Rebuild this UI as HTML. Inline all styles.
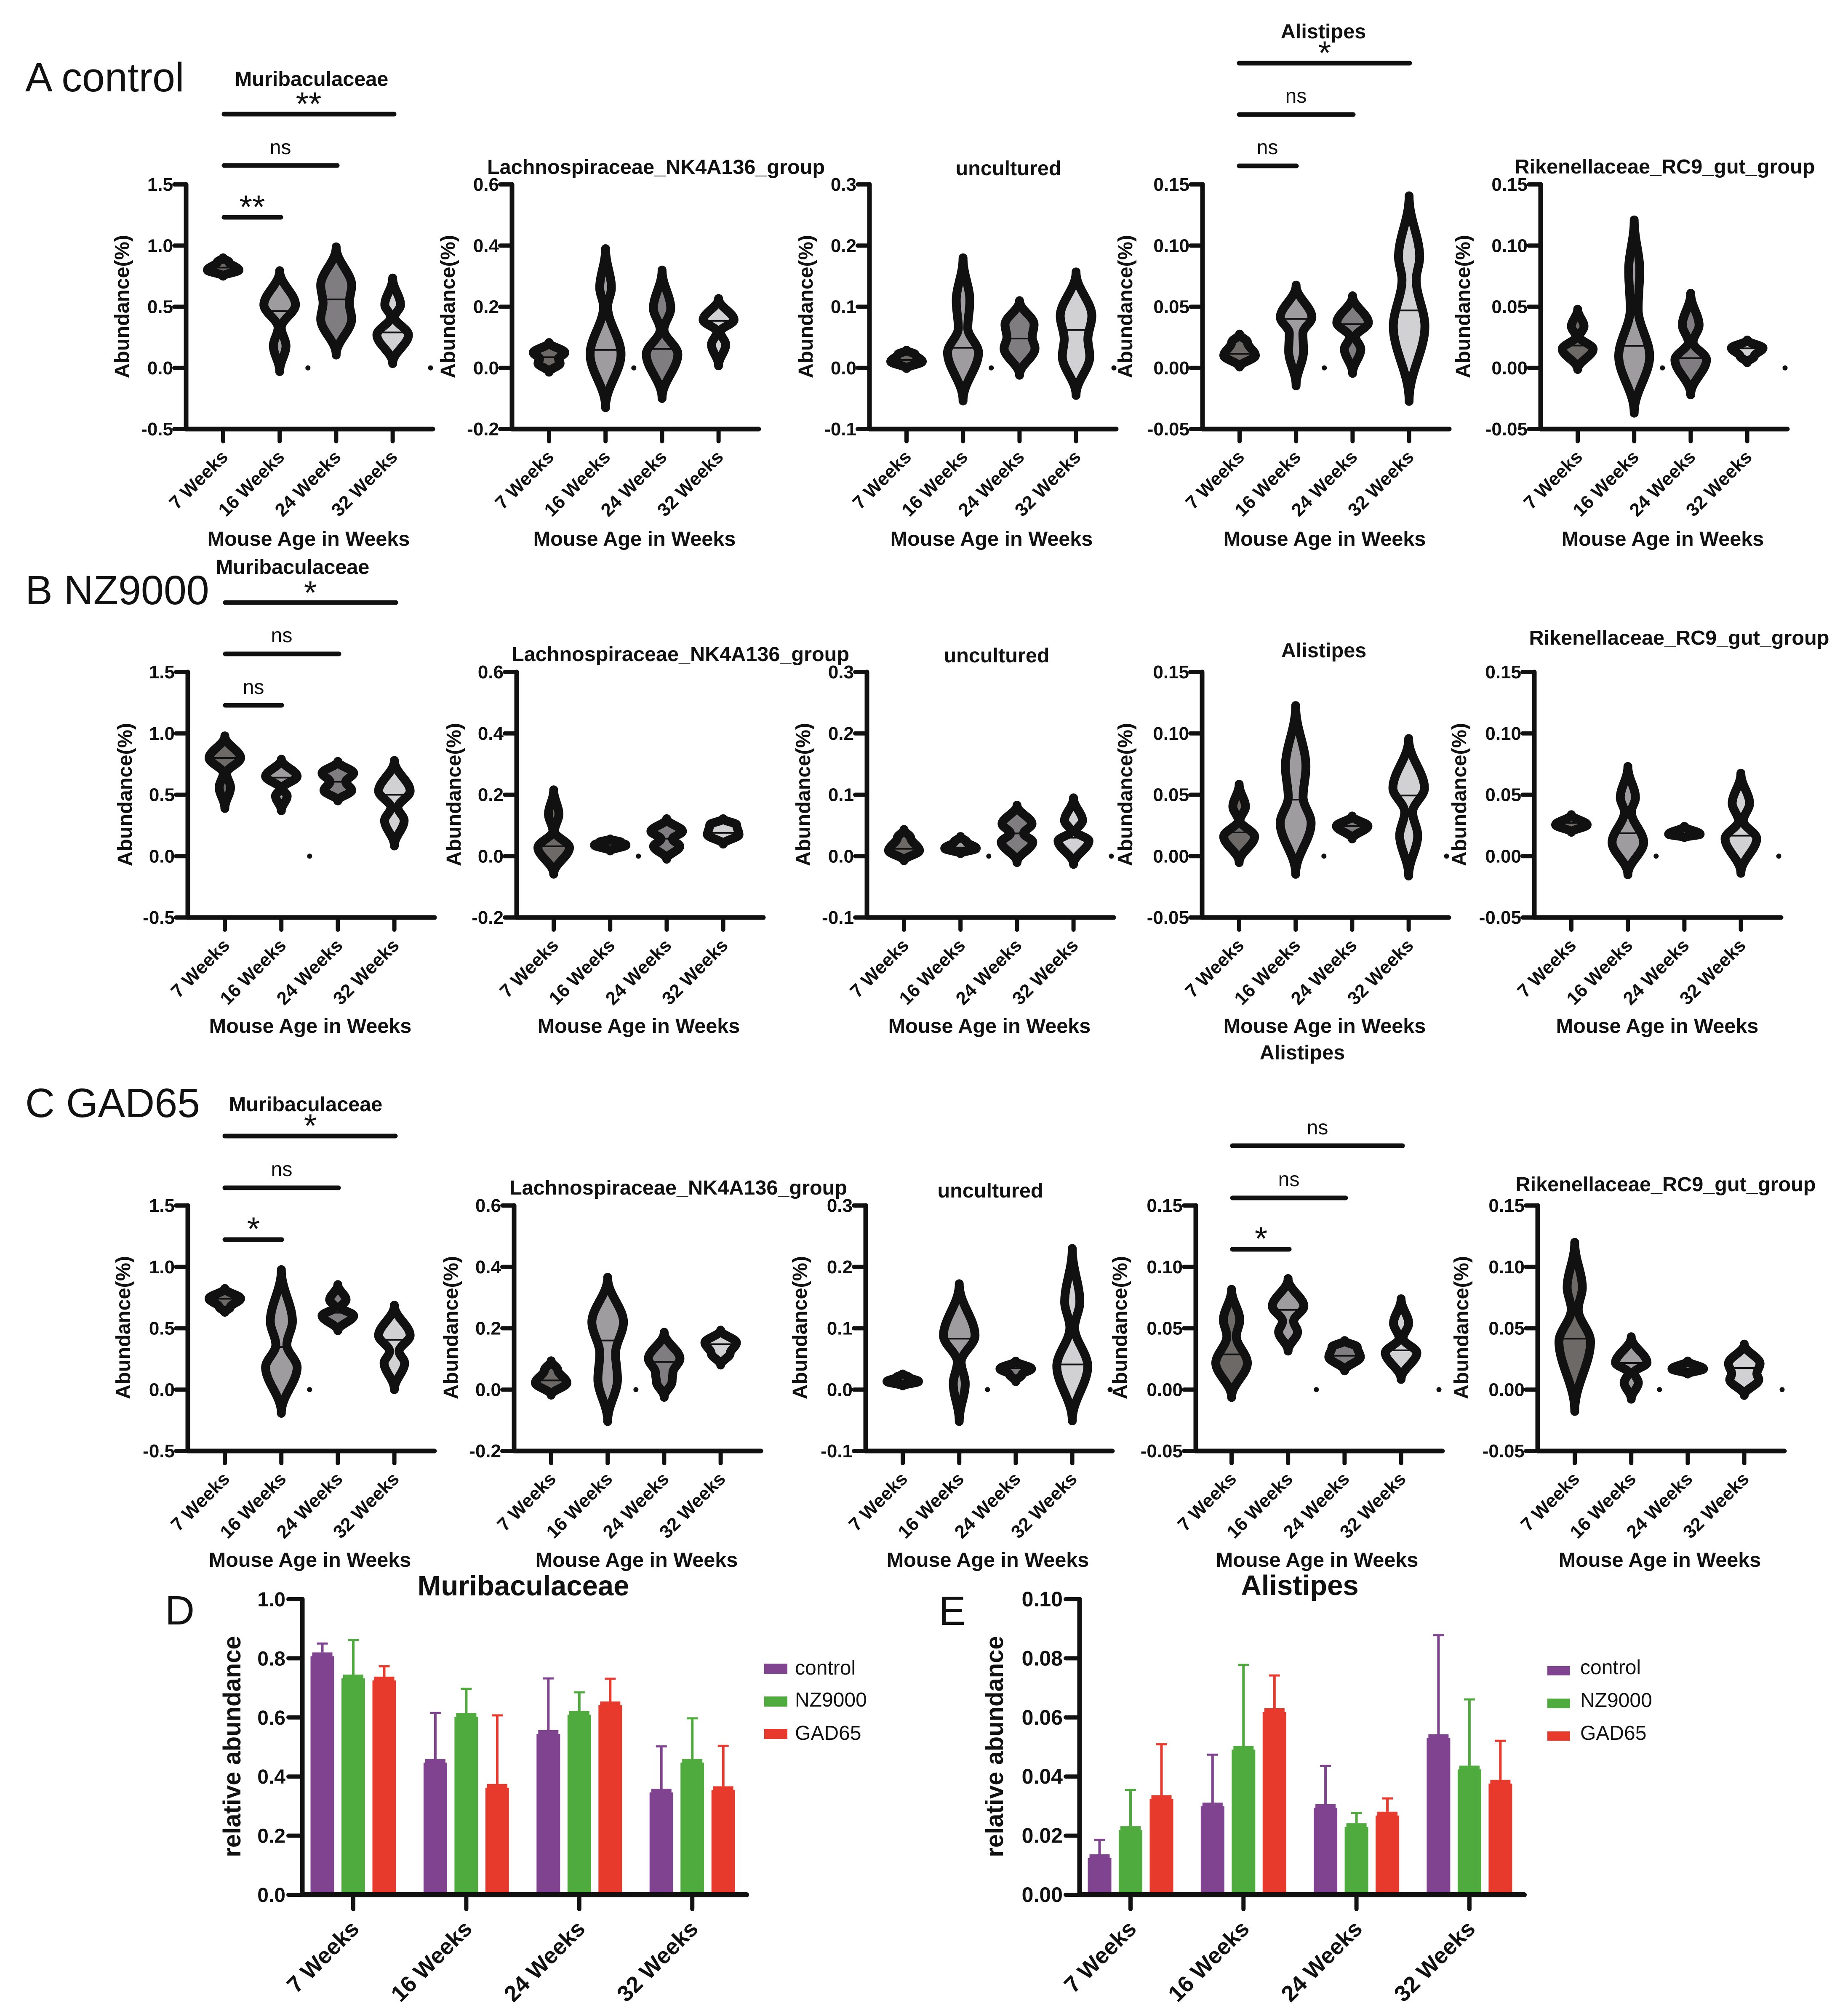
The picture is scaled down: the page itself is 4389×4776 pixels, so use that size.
<!DOCTYPE html>
<html lang="en">
<head>
<meta charset="utf-8">
<title>Abundance violin plots and bar charts</title>
<style>
html,body{margin:0;padding:0;background:#fff;}
svg{display:block;}
text{font-family:"Liberation Sans",Arial,sans-serif;fill:#111;}
.m{font-weight:bold;font-size:48.6px;text-anchor:middle;}
.l{font-size:97px;}
.ns{font-size:48px;text-anchor:middle;}
.st{font-size:78px;text-anchor:middle;}
.sig{stroke:#111;stroke-width:11;stroke-linecap:round;fill:none;}
.big{font-weight:bold;font-size:67px;text-anchor:middle;}
.ra{font-weight:bold;font-size:58px;text-anchor:middle;}
.lg{font-size:48px;}
</style>
</head>
<body>
<svg id="fig" xmlns="http://www.w3.org/2000/svg" width="4389" height="4776" viewBox="0 0 4389 4776">
<rect width="4389" height="4776" fill="#fff"/>

<text class="l" x="60" y="217">A control</text>
<text class="l" x="60" y="1435">B NZ9000</text>
<text class="l" x="60" y="2653">C GAD65</text>
<text class="l" x="392" y="3858">D</text>
<text class="l" x="2229" y="3859">E</text>

<!-- Chart titles -->
<text class="m" x="740" y="204">Muribaculaceae</text>
<text class="m" x="1558" y="413">Lachnospiraceae_NK4A136_group</text>
<text class="m" x="2395" y="416">uncultured</text>
<text class="m" x="3143" y="91">Alistipes</text>
<text class="m" x="3954" y="412">Rikenellaceae_RC9_gut_group</text>
<text class="m" x="695" y="1363">Muribaculaceae</text>
<text class="m" x="1616" y="1570">Lachnospiraceae_NK4A136_group</text>
<text class="m" x="2367" y="1573">uncultured</text>
<text class="m" x="3144" y="1561">Alistipes</text>
<text class="m" x="3988" y="1531">Rikenellaceae_RC9_gut_group</text>
<text class="m" x="726" y="2639">Muribaculaceae</text>
<text class="m" x="1611" y="2837">Lachnospiraceae_NK4A136_group</text>
<text class="m" x="2352" y="2844">uncultured</text>
<text class="m" x="3093" y="2516">Alistipes</text>
<text class="m" x="3956" y="2829">Rikenellaceae_RC9_gut_group</text>

<!-- X axis titles -->
<text class="m" x="733" y="1296">Mouse Age in Weeks</text>
<text class="m" x="1507" y="1296">Mouse Age in Weeks</text>
<text class="m" x="2355" y="1296">Mouse Age in Weeks</text>
<text class="m" x="3146" y="1296">Mouse Age in Weeks</text>
<text class="m" x="3949" y="1296">Mouse Age in Weeks</text>
<text class="m" x="737" y="2453">Mouse Age in Weeks</text>
<text class="m" x="1517" y="2453">Mouse Age in Weeks</text>
<text class="m" x="2350" y="2453">Mouse Age in Weeks</text>
<text class="m" x="3146" y="2453">Mouse Age in Weeks</text>
<text class="m" x="3936" y="2453">Mouse Age in Weeks</text>
<text class="m" x="736" y="3721">Mouse Age in Weeks</text>
<text class="m" x="1512" y="3721">Mouse Age in Weeks</text>
<text class="m" x="2346" y="3721">Mouse Age in Weeks</text>
<text class="m" x="3128" y="3721">Mouse Age in Weeks</text>
<text class="m" x="3942" y="3721">Mouse Age in Weeks</text>

<!-- Y axis titles -->
<text class="m" transform="translate(306,728) rotate(-90)">Abundance(%)</text>
<text class="m" transform="translate(1080,728) rotate(-90)">Abundance(%)</text>
<text class="m" transform="translate(1930,728) rotate(-90)">Abundance(%)</text>
<text class="m" transform="translate(2689,728) rotate(-90)">Abundance(%)</text>
<text class="m" transform="translate(3491,728) rotate(-90)">Abundance(%)</text>
<text class="m" transform="translate(313,1887) rotate(-90)">Abundance(%)</text>
<text class="m" transform="translate(1094,1887) rotate(-90)">Abundance(%)</text>
<text class="m" transform="translate(1924,1887) rotate(-90)">Abundance(%)</text>
<text class="m" transform="translate(2689,1887) rotate(-90)">Abundance(%)</text>
<text class="m" transform="translate(3482,1887) rotate(-90)">Abundance(%)</text>
<text class="m" transform="translate(309,3153) rotate(-90)">Abundance(%)</text>
<text class="m" transform="translate(1087,3153) rotate(-90)">Abundance(%)</text>
<text class="m" transform="translate(1916,3153) rotate(-90)">Abundance(%)</text>
<text class="m" transform="translate(2676,3153) rotate(-90)">Abundance(%)</text>
<text class="m" transform="translate(3487,3153) rotate(-90)">Abundance(%)</text>

<!-- Significance brackets -->
<line class="sig" x1="532" y1="271" x2="936" y2="271"/>
<line class="sig" x1="532" y1="393" x2="801" y2="393"/>
<line class="sig" x1="532" y1="516" x2="667" y2="516"/>
<text class="st" x="733" y="273">**</text>
<text class="ns" x="666" y="366">ns</text>
<text class="st" x="599" y="518">**</text>

<line class="sig" x1="2943" y1="150" x2="3348" y2="150"/>
<line class="sig" x1="2943" y1="272" x2="3214" y2="272"/>
<line class="sig" x1="2943" y1="394" x2="3079" y2="394"/>
<text class="st" x="3146" y="152">*</text>
<text class="ns" x="3078" y="244">ns</text>
<text class="ns" x="3010" y="366">ns</text>

<line class="sig" x1="535" y1="1431" x2="940" y2="1431"/>
<line class="sig" x1="535" y1="1553" x2="805" y2="1553"/>
<line class="sig" x1="535" y1="1675" x2="669" y2="1675"/>
<text class="st" x="737" y="1434">*</text>
<text class="ns" x="669" y="1525">ns</text>
<text class="ns" x="602" y="1648">ns</text>

<line class="sig" x1="534" y1="2698" x2="939" y2="2698"/>
<line class="sig" x1="534" y1="2821" x2="804" y2="2821"/>
<line class="sig" x1="534" y1="2944" x2="669" y2="2944"/>
<text class="st" x="737" y="2700">*</text>
<text class="ns" x="669" y="2793">ns</text>
<text class="st" x="602" y="2945">*</text>

<line class="sig" x1="2927" y1="2721" x2="3331" y2="2721"/>
<line class="sig" x1="2927" y1="2845" x2="3196" y2="2845"/>
<line class="sig" x1="2927" y1="2967" x2="3062" y2="2967"/>
<text class="ns" x="3129" y="2694">ns</text>
<text class="ns" x="3061" y="2817">ns</text>
<text class="st" x="2995" y="2968">*</text>

<!-- Bar chart furniture -->
<text class="big" x="1243" y="3789">Muribaculaceae</text>
<text class="big" x="3087" y="3788">Alistipes</text>
<text class="ra" transform="translate(571,4148) rotate(-90)">relative abundance</text>
<text class="ra" transform="translate(2382,4148) rotate(-90)">relative abundance</text>

<g>
<rect x="1815" y="3951" width="55" height="24" fill="#7f4390"/>
<text class="lg" x="1888" y="3977">control</text>
<rect x="1815" y="4029" width="55" height="24" fill="#50ab3e"/>
<text class="lg" x="1888" y="4053">NZ9000</text>
<rect x="1815" y="4106" width="55" height="24" fill="#e8392d"/>
<text class="lg" x="1888" y="4132">GAD65</text>
</g>
<g>
<rect x="3675" y="3957" width="54" height="22" fill="#7f4390"/>
<text class="lg" x="3753" y="3976">control</text>
<rect x="3675" y="4034" width="54" height="23" fill="#50ab3e"/>
<text class="lg" x="3753" y="4054">NZ9000</text>
<rect x="3675" y="4112" width="54" height="22" fill="#e8392d"/>
<text class="lg" x="3753" y="4132">GAD65</text>
</g>
</svg>

<script>
// ---- Shared categories and tick labels ----
const categories = ['7 Weeks', '16 Weeks', '24 Weeks', '32 Weeks'];
const muriTicks = [-0.5, 0, 0.5, 1, 1.5];
const lachTicks = [-0.2, 0, 0.2, 0.4, 0.6];
const uncuTicks = [-0.1, 0, 0.1, 0.2, 0.3];
const alisTicks = [-0.05, 0, 0.05, 0.1, 0.15];
const rikeTicks = [-0.05, 0, 0.05, 0.1, 0.15];
const barTicksD = [0, 0.2, 0.4, 0.6, 0.8, 1];
const barTicksE = [0, 0.02, 0.04, 0.06, 0.08, 0.1];

// ---- Violin data: lower tip, upper tip, median, density knots [abundance, relative density] ----
const aMuriLow = [0.75, -0.03, 0.105, 0.035];
const aMuriHigh = [0.90, 0.795, 0.99, 0.735];
const aMuriMedian = [0.82, 0.464, 0.56, 0.29];
const aMuriShape = [[[0.8, 1], [0.865, 0.37]], [[0.18, 0.4], [0.33, 0.1], [0.516, 1]], [[0.4, 0.98], [0.53, 0.83], [0.675, 0.98]], [[0.27, 1], [0.415, 0.12], [0.516, 0.5]]];

const aLachLow = [-0.014, -0.13, -0.10, 0.007];
const aLachHigh = [0.083, 0.39, 0.32, 0.227];
const aLachMedian = [0.035, 0.059, 0.062, 0.154];
const aLachShape = [[[0.015, 0.7], [0.03, 0.6], [0.05, 1]], [[0.045, 0.98], [0.2, 0.13], [0.262, 0.37]], [[0.045, 1], [0.125, 0.12], [0.195, 0.55]], [[0.076, 0.45], [0.119, 0.1], [0.157, 0.98]]];

const aUncuLow = [-0.001, -0.054, -0.012, -0.045];
const aUncuHigh = [0.029, 0.18, 0.11, 0.157];
const aUncuMedian = [0.013, 0.033, 0.048, 0.062];
const aUncuShape = [[[0.0105, 1], [0.022, 0.55]], [[0.025, 0.98], [0.065, 0.3], [0.11, 0.43]], [[0.032, 0.98], [0.05, 0.8], [0.071, 0.92]], [[0.019, 0.87], [0.047, 0.75], [0.085, 1]]];

const aAlisLow = [0.0007, -0.0147, -0.0045, -0.0274];
const aAlisHigh = [0.0277, 0.0677, 0.059, 0.1407];
const aAlisMedian = [0.0115, 0.04, 0.0357, 0.047];
const aAlisShape = [[[0.0101, 1], [0.021, 0.5]], [[0.0139, 0.47], [0.0284, 0.43], [0.0414, 1]], [[0.0154, 0.52], [0.0255, 0.18], [0.037, 1]], [[0.034, 1], [0.072, 0.45], [0.0907, 0.67]]];

const aRikeLow = [-0.0013, -0.037, -0.022, 0.0042];
const aRikeHigh = [0.048, 0.121, 0.061, 0.0228];
const aRikeMedian = [0.0183, 0.018, 0.008, 0.016];
const aRikeShape = [[[0.0154, 0.98], [0.0255, 0.1], [0.034, 0.4]], [[0.0096, 0.98], [0.048, 0.25], [0.08, 0.35]], [[0.0067, 1], [0.021, 0.15], [0.035, 0.53]], [[0.0096, 0.45], [0.0162, 1]]];

const bMuriLow = [0.388, 0.37, 0.45, 0.083];
const bMuriHigh = [0.98, 0.79, 0.772, 0.78];
const bMuriMedian = [0.8, 0.64, 0.606, 0.5];
const bMuriShape = [[[0.56, 0.36], [0.676, 0.1], [0.8, 1]], [[0.49, 0.37], [0.553, 0.05], [0.65, 1]], [[0.536, 0.88], [0.606, 0.5], [0.676, 1]], [[0.29, 0.62], [0.396, 0.22], [0.53, 1]]];

const bLachLow = [-0.059, 0.017, -0.01, 0.039];
const bLachHigh = [0.216, 0.056, 0.122, 0.122];
const bLachMedian = [0.032, 0.04, 0.057, 0.076];
const bLachShape = [[[0.028, 1], [0.081, 0.05], [0.137, 0.33]], [[0.036, 1], [0.045, 0.7]], [[0.032, 0.83], [0.056, 0.37], [0.081, 1]], [[0.07, 1], [0.102, 0.85]]];

const bUncuLow = [-0.0075, 0.004, -0.0105, -0.0135];
const bUncuHigh = [0.0435, 0.032, 0.083, 0.095];
const bUncuMedian = [0.012, 0.014, 0.037, 0.03];
const bUncuShape = [[[0.009, 0.98], [0.03, 0.42]], [[0.0126, 1], [0.023, 0.4]], [[0.023, 1], [0.037, 0.42], [0.0525, 0.95]], [[0.025, 0.98], [0.04, 0.15], [0.058, 0.57]]];

const bAlisLow = [-0.0053, -0.0148, 0.014, -0.0162];
const bAlisHigh = [0.0586, 0.1227, 0.0327, 0.0958];
const bAlisMedian = [0.0193, 0.046, 0.0245, 0.0494];
const bAlisShape = [[[0.016, 0.98], [0.029, 0.05], [0.0403, 0.4]], [[0.027, 0.98], [0.048, 0.47], [0.073, 0.65]], [[0.0245, 1]], [[0.0168, 0.57], [0.036, 0.25], [0.0554, 1]]];

const bRikeLow = [0.0194, -0.0152, 0.0151, -0.014];
const bRikeHigh = [0.0338, 0.0731, 0.0243, 0.0676];
const bRikeMedian = [0.027, 0.0186, 0.018, 0.0167];
const bRikeShape = [[[0.0255, 1]], [[0.0112, 1], [0.036, 0.22], [0.0477, 0.48]], [[0.0179, 1]], [[0.0143, 1], [0.0286, 0.15], [0.043, 0.55]]];

const cMuriLow = [0.63, -0.193, 0.48, 0];
const cMuriHigh = [0.824, 0.978, 0.856, 0.688];
const cMuriMedian = [0.74, 0.347, 0.627, 0.406];
const cMuriShape = [[[0.672, 0.35], [0.742, 1]], [[0.182, 1], [0.364, 0.35], [0.557, 0.7]], [[0.602, 1], [0.67, 0.18], [0.732, 0.52]], [[0.217, 0.65], [0.312, 0.3], [0.441, 1]]];

const cLachLow = [-0.018, -0.104, -0.025, 0.08];
const cLachHigh = [0.094, 0.366, 0.187, 0.194];
const cLachMedian = [0.03, 0.16, 0.09, 0.148];
const cLachShape = [[[0.022, 1], [0.064, 0.42]], [[0.034, 0.62], [0.118, 0.5], [0.22, 1]], [[0.027, 0.5], [0.055, 0.55], [0.101, 1]], [[0.118, 0.6], [0.153, 1]]];

const cUncuLow = [0.006, -0.052, 0.013, -0.051];
const cUncuHigh = [0.0255, 0.1725, 0.0465, 0.23];
const cUncuMedian = [0.014, 0.083, 0.035, 0.041];
const cUncuShape = [[[0.0133, 1], [0.02, 0.4]], [[0.01, 0.38], [0.045, 0.12], [0.088, 1]], [[0.025, 0.4], [0.034, 1]], [[0.038, 0.98], [0.101, 0.15], [0.143, 0.48]]];

const cAlisLow = [-0.0064, 0.0314, 0.0153, 0.0083];
const cAlisHigh = [0.0817, 0.0905, 0.04, 0.074];
const cAlisMedian = [0.0287, 0.065, 0.0276, 0.032];
const cAlisShape = [[[0.0217, 1], [0.0434, 0.3], [0.0568, 0.52]], [[0.047, 0.6], [0.0557, 0.35], [0.0679, 1]], [[0.0266, 1], [0.0347, 0.8]], [[0.03, 1], [0.0417, 0.12], [0.054, 0.48]]];

const cRikeLow = [-0.0178, -0.0078, 0.0127, -0.0047];
const cRikeHigh = [0.12, 0.0431, 0.0233, 0.0371];
const cRikeMedian = [0.0415, 0.0217, 0.017, 0.0176];
const cRikeShape = [[[0.0391, 1], [0.0653, 0.22], [0.0832, 0.48]], [[0.0057, 0.45], [0.014, 0.18], [0.0219, 1]], [[0.0169, 1]], [[0.0081, 0.92], [0.0129, 0.8], [0.0212, 1]]];

// Stray zero-valued points and their position in category units
const strayValue = 0;
const strayOne = [1.5];
const strayTwo = [1.5, 3.67];

// ---- Bar chart data ----
const muriControl = [0.82, 0.46, 0.557, 0.359];
const muriNZ9000 = [0.745, 0.615, 0.622, 0.46];
const muriGAD65 = [0.738, 0.375, 0.654, 0.367];
const muriControlErr = [0.85, 0.615, 0.732, 0.502];
const muriNZ9000Err = [0.862, 0.697, 0.685, 0.597];
const muriGAD65Err = [0.773, 0.607, 0.731, 0.504];

const alisControl = [0.0137, 0.0312, 0.0307, 0.0543];
const alisNZ9000 = [0.0232, 0.0504, 0.0242, 0.0437];
const alisGAD65 = [0.0337, 0.0631, 0.0281, 0.0389];
const alisControlErr = [0.0186, 0.0474, 0.0436, 0.0878];
const alisNZ9000Err = [0.0355, 0.0778, 0.0277, 0.0661];
const alisGAD65Err = [0.0509, 0.0742, 0.0326, 0.0521];

// ---- Layout and styles ----
const INK = '#111';
const rows = [{top: 438, bottom: 1019}, {top: 1596, bottom: 2179}, {top: 2863, bottom: 3446}];
const fills = ['#6c6966', '#9e9c9e', '#807d80', '#d1d0d2'];
const panels = [
  {id: 'a1', row: 0, axis: 442, ticks: muriTicks, dec: 1, lo: aMuriLow, hi: aMuriHigh, med: aMuriMedian, shape: aMuriShape, stray: strayTwo},
  {id: 'a2', row: 0, axis: 1216, ticks: lachTicks, dec: 1, lo: aLachLow, hi: aLachHigh, med: aLachMedian, shape: aLachShape, stray: strayOne},
  {id: 'a3', row: 0, axis: 2065, ticks: uncuTicks, dec: 1, lo: aUncuLow, hi: aUncuHigh, med: aUncuMedian, shape: aUncuShape, stray: strayTwo},
  {id: 'a4', row: 0, axis: 2856, ticks: alisTicks, dec: 2, lo: aAlisLow, hi: aAlisHigh, med: aAlisMedian, shape: aAlisShape, stray: strayOne},
  {id: 'a5', row: 0, axis: 3659, ticks: rikeTicks, dec: 2, lo: aRikeLow, hi: aRikeHigh, med: aRikeMedian, shape: aRikeShape, stray: strayTwo},
  {id: 'b1', row: 1, axis: 446, ticks: muriTicks, dec: 1, lo: bMuriLow, hi: bMuriHigh, med: bMuriMedian, shape: bMuriShape, stray: strayOne},
  {id: 'b2', row: 1, axis: 1227, ticks: lachTicks, dec: 1, lo: bLachLow, hi: bLachHigh, med: bLachMedian, shape: bLachShape, stray: strayOne},
  {id: 'b3', row: 1, axis: 2059, ticks: uncuTicks, dec: 1, lo: bUncuLow, hi: bUncuHigh, med: bUncuMedian, shape: bUncuShape, stray: strayTwo},
  {id: 'b4', row: 1, axis: 2855, ticks: alisTicks, dec: 2, lo: bAlisLow, hi: bAlisHigh, med: bAlisMedian, shape: bAlisShape, stray: strayTwo},
  {id: 'b5', row: 1, axis: 3644, ticks: rikeTicks, dec: 2, lo: bRikeLow, hi: bRikeHigh, med: bRikeMedian, shape: bRikeShape, stray: strayTwo},
  {id: 'c1', row: 2, axis: 446, ticks: muriTicks, dec: 1, lo: cMuriLow, hi: cMuriHigh, med: cMuriMedian, shape: cMuriShape, stray: strayOne},
  {id: 'c2', row: 2, axis: 1221, ticks: lachTicks, dec: 1, lo: cLachLow, hi: cLachHigh, med: cLachMedian, shape: cLachShape, stray: strayOne},
  {id: 'c3', row: 2, axis: 2056, ticks: uncuTicks, dec: 1, lo: cUncuLow, hi: cUncuHigh, med: cUncuMedian, shape: cUncuShape, stray: strayTwo},
  {id: 'c4', row: 2, axis: 2840, ticks: alisTicks, dec: 2, lo: cAlisLow, hi: cAlisHigh, med: cAlisMedian, shape: cAlisShape, stray: strayTwo, shift: -3},
  {id: 'c5', row: 2, axis: 3652, ticks: rikeTicks, dec: 2, lo: cRikeLow, hi: cRikeHigh, med: cRikeMedian, shape: cRikeShape, stray: strayTwo}
];

const svg = document.getElementById('fig');
const NS = 'http://www.w3.org/2000/svg';
function make(tag, attrs, parent) {
  const node = document.createElementNS(NS, tag);
  for (const k in attrs) node.setAttribute(k, attrs[k]);
  parent.appendChild(node);
  return node;
}

// Density curve: smooth interpolation through the knots, pinched at both tips
function densityAt(knots, v) {
  for (let i = 0; i < knots.length - 1; i++) {
    const a = knots[i], b = knots[i + 1];
    if (v >= a[0] && v <= b[0]) {
      const t = (v - a[0]) / (b[0] - a[0]);
      let s = t * t * (3 - 2 * t);
      if (i === 0) s = Math.pow(s, 1.1);
      if (i === knots.length - 2) s = 1 - Math.pow(1 - s, 1.1);
      return a[1] + (b[1] - a[1]) * s;
    }
  }
  return 0;
}

function drawViolinPanel(p) {
  const rowBox = rows[p.row];
  const yMin = p.ticks[0];
  const yMax = p.ticks[p.ticks.length - 1];
  const yScale = v => rowBox.top + (yMax - v) / (yMax - yMin) * (rowBox.bottom - rowBox.top);
  const xScale = i => p.axis + 88 + (p.shift || 0) + 134.2 * i;
  const widthScale = d => d * 37.5;

  const g = make('g', {}, svg);
  
  

  // axes
  const yAxis = make('line', {x1: p.axis, x2: p.axis, y1: rowBox.top, y2: rowBox.bottom, stroke: INK, 'stroke-width': 11, 'stroke-linecap': 'round'}, g);
  
  
  const xAxis = make('line', {x1: p.axis, x2: p.axis + 586, y1: rowBox.bottom, y2: rowBox.bottom, stroke: INK, 'stroke-width': 11, 'stroke-linecap': 'round'}, g);
  
  

  p.ticks.forEach(t => {
    const tick = make('line', {x1: p.axis - 28, x2: p.axis, y1: yScale(t), y2: yScale(t), stroke: INK, 'stroke-width': 10, 'stroke-linecap': 'round'}, g);
    
    
    const label = make('text', {x: p.axis - 31, y: yScale(t) + 15, 'text-anchor': 'end', 'font-size': 44, 'font-weight': 'bold'}, g);
    label.textContent = t.toFixed(p.dec);
    
    
  });

  categories.forEach((c, i) => {
    const cx = xScale(i);
    const tick = make('line', {x1: cx, x2: cx, y1: rowBox.bottom, y2: rowBox.bottom + 29, stroke: INK, 'stroke-width': 10, 'stroke-linecap': 'round'}, g);
    
    
    const ax = cx + 14, ay = rowBox.bottom + 69;
    const label = make('text', {x: ax, y: ay, 'text-anchor': 'end', 'font-size': 44, 'font-weight': 'bold', transform: 'rotate(-45 ' + ax + ' ' + ay + ')'}, g);
    label.textContent = c;
    
    

    // violin
    const knots = [[p.lo[i], 0]].concat(p.shape[i].slice().sort((a, b) => a[0] - b[0])).concat([[p.hi[i], 0]]);
    const N = 140;
    const right = [], left = [];
    for (let k = 0; k <= N; k++) {
      const v = p.lo[i] + (p.hi[i] - p.lo[i]) * k / N;
      const w = widthScale(densityAt(knots, v));
      right.push((cx + w).toFixed(1) + ' ' + yScale(v).toFixed(1));
      left.unshift((cx - w).toFixed(1) + ' ' + yScale(v).toFixed(1));
    }
    const violin = make('path', {d: 'M' + right.concat(left).join('L') + 'Z', fill: fills[i], stroke: INK, 'stroke-width': 21, 'stroke-linejoin': 'round'}, g);
    
    

    const mw = widthScale(densityAt(knots, p.med[i]));
    const median = make('line', {x1: cx - mw, x2: cx + mw, y1: yScale(p.med[i]), y2: yScale(p.med[i]), stroke: INK, 'stroke-width': 4}, g);
    
    
  });

  p.stray.forEach(pos => {
    const dot = make('circle', {cx: xScale(pos), cy: yScale(strayValue), r: 6, fill: INK}, g);
    
    
  });
}
panels.forEach(drawViolinPanel);

// ---- Grouped bar charts ----
const barColors = ['#7f4390', '#50ab3e', '#e8392d'];
const barCharts = [
  {id: 'd', axis: 718, first: 839, step: 268.4, right: 1773, labelOffset: 40, ticks: barTicksD, dec: 1, tickSize: 48,
   series: [muriControl, muriNZ9000, muriGAD65], errs: [muriControlErr, muriNZ9000Err, muriGAD65Err]},
  {id: 'e', axis: 2564, first: 2685, step: 268.3, right: 3620, labelOffset: 40, ticks: barTicksE, dec: 2, tickSize: 50,
   series: [alisControl, alisNZ9000, alisGAD65], errs: [alisControlErr, alisNZ9000Err, alisGAD65Err]}
];

function drawBarChart(c) {
  const top = 3798, zero = 4500;
  const yMax = c.ticks[c.ticks.length - 1];
  const yScale = v => zero - v / yMax * (zero - top);
  const xScale = i => c.first + c.step * i;
  const g = make('g', {}, svg);
  
  

  c.series.forEach((vals, s) => {
    vals.forEach((v, i) => {
      const cx = xScale(i) + (s - 1) * 73.5;
      const y = yScale(v), hw = 28, inset = 4, sh = 9;
      const errY = yScale(c.errs[s][i]);
      const stem = make('line', {x1: cx, x2: cx, y1: y, y2: errY, stroke: barColors[s], 'stroke-width': 6}, g);
      
      
      const cap = make('line', {x1: cx - 13, x2: cx + 13, y1: errY, y2: errY, stroke: barColors[s], 'stroke-width': 5}, g);
      
      
      const d = 'M' + (cx - hw) + ' ' + zero + 'V' + (y + sh) + 'H' + (cx - hw + inset) + 'V' + y + 'H' + (cx + hw - inset) + 'V' + (y + sh) + 'H' + (cx + hw) + 'V' + zero + 'Z';
      const bar = make('path', {d: d, fill: barColors[s]}, g);
      
      
    });
  });

  const yAxis = make('line', {x1: c.axis, x2: c.axis, y1: top, y2: zero, stroke: INK, 'stroke-width': 11, 'stroke-linecap': 'round'}, g);
  
  
  const xAxis = make('line', {x1: c.axis, x2: c.right, y1: zero, y2: zero, stroke: INK, 'stroke-width': 12, 'stroke-linecap': 'round'}, g);
  
  

  c.ticks.forEach(t => {
    const tick = make('line', {x1: c.axis - 33, x2: c.axis, y1: yScale(t), y2: yScale(t), stroke: INK, 'stroke-width': 10, 'stroke-linecap': 'round'}, g);
    
    
    const label = make('text', {x: c.axis - c.labelOffset, y: yScale(t) + 17, 'text-anchor': 'end', 'font-size': c.tickSize, 'font-weight': 'bold'}, g);
    label.textContent = t.toFixed(c.dec);
    
    
  });

  categories.forEach((name, i) => {
    const cx = xScale(i);
    const tick = make('line', {x1: cx, x2: cx, y1: zero, y2: zero + 34, stroke: INK, 'stroke-width': 10, 'stroke-linecap': 'round'}, g);
    
    
    const ax = cx + 17, ay = 4584;
    const label = make('text', {x: ax, y: ay, 'text-anchor': 'end', 'font-size': 54, 'font-weight': 'bold', transform: 'rotate(-45 ' + ax + ' ' + ay + ')'}, g);
    label.textContent = name;
    
    
  });
}
barCharts.forEach(drawBarChart);
</script>
</body>
</html>
